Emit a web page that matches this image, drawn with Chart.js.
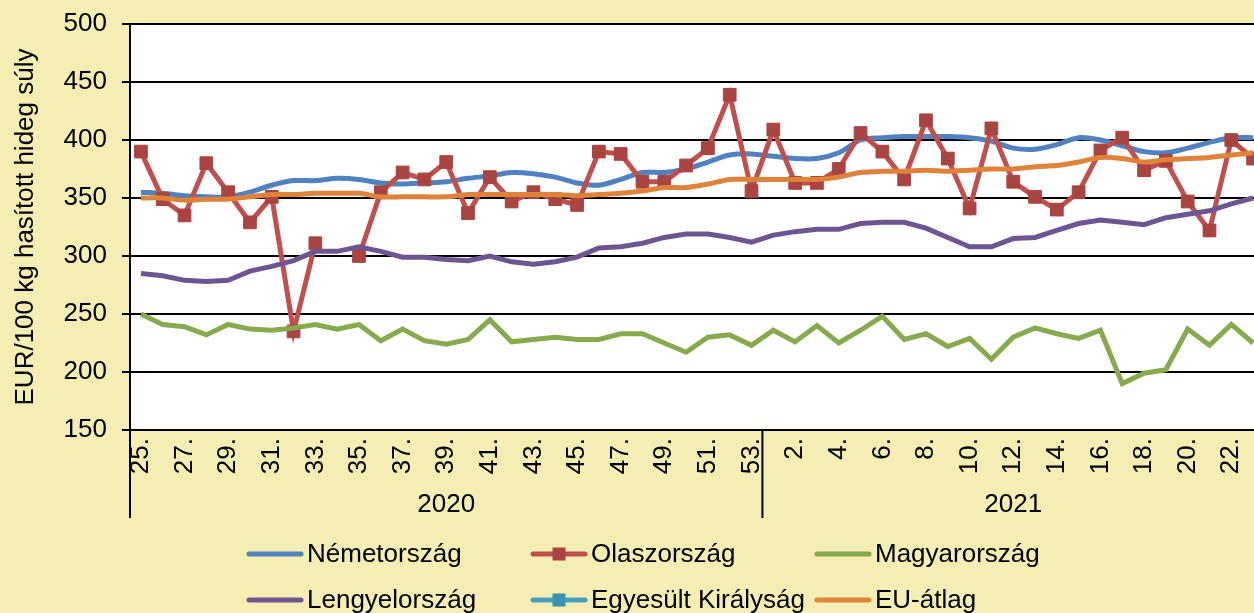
<!DOCTYPE html>
<html lang="hu">
<head>
<meta charset="utf-8">
<title>Sertéshús árak</title>
<script src="https://cdn.jsdelivr.net/npm/chart.js@4.4.0/dist/chart.umd.min.js"></script>
<style>
  html, body { margin: 0; padding: 0; overflow: hidden; background: #F4EEB4; }
  #wrap { width: 1278px; height: 613px; }
</style>
</head>
<body>
<div id="wrap"><canvas id="arChart" width="1278" height="613"></canvas></div>
<script>
// Hetek (2020: 25-53, 2021: 1-23)
const weeks = ['25.', '26.', '27.', '28.', '29.', '30.', '31.', '32.', '33.', '34.',
    '35.', '36.', '37.', '38.', '39.', '40.', '41.', '42.', '43.', '44.', '45.', '46.',
    '47.', '48.', '49.', '50.', '51.', '52.', '53.',
    '1.', '2.', '3.', '4.', '5.', '6.', '7.', '8.', '9.', '10.', '11.', '12.', '13.',
    '14.', '15.', '16.', '17.', '18.', '19.', '20.', '21.', '22.', '23.'];
const years = ['2020', '2021'];
const yearLengths = [29, 23];

const yTicks = [150, 200, 250, 300, 350, 400, 450, 500];

// Árak EUR/100 kg
const nemetorszag = [355, 354, 352, 351, 351, 355, 361, 365, 365, 367, 366, 363, 362, 363, 364,
    367, 369, 372, 371, 368, 363, 361, 366, 372, 372, 375, 381, 387, 388,
    386, 384, 384, 389, 400, 402, 403, 403, 403, 402, 399, 393, 392, 396, 402, 400, 395,
    390, 389, 393, 398, 402, 402];
const olaszorszag = [390, 349, 335, 380, 355, 329, 351, 235, 311, null, 300, 355, 372, 366, 381,
    337, 368, 347, 355, 349, 344, 390, 388, 364, 364, 378, 393, 439, 356,
    409, 363, 363, 375, 406, 390, 366, 417, 384, 341, 410, 364, 351, 340, 355, 391, 402,
    374, 382, 347, 322, 400, 384];
const magyarorszag = [250, 241, 239, 232, 241, 237, 236, 238, 241, 237, 241, 227, 237, 227, 224,
    228, 245, 226, 228, 230, 228, 228, 233, 233, 225, 217, 230, 232, 223,
    236, 226, 240, 225, 236, 248, 228, 233, 222, 229, 211, 230, 238, 233, 229, 236, 190,
    199, 202, 237, 223, 241, 225];
const lengyelorszag = [285, 283, 279, 278, 279, 287, 291, 296, 304, 304, 308, 304, 299, 299, 297,
    296, 300, 295, 293, 295, 299, 307, 308, 311, 316, 319, 319, 316, 312,
    318, 321, 323, 323, 328, 329, 329, 324, 316, 308, 308, 315, 316, 322, 328, 331, 329,
    327, 333, 336, 339, 345, 350];
const egyesultKiralysag = weeks.map(() => null); // nincs adat a képen
const euAtlag = [350, 350, 348, 349, 349, 351, 353, 353, 354, 354, 354, 351, 351, 351, 351,
    353, 353, 353, 353, 353, 352, 353, 354, 356, 359, 359, 362, 366, 366,
    366, 366, 366, 368, 372, 373, 373, 374, 373, 374, 375, 375, 377, 378, 381, 385, 384,
    381, 383, 384, 385, 387, 389];

const FONT = "'Liberation Sans', Arial, sans-serif";
Chart.defaults.font.family = FONT;
Chart.defaults.font.size = 26;
Chart.defaults.color = '#000';

// Háttér, évcsoportok és jelmagyarázat rajzolása
const extras = {
    id: 'extras',
    beforeDraw(chart) {
        const { ctx, chartArea: a } = chart;
        ctx.save();
        ctx.fillStyle = '#F4EEB4';
        ctx.fillRect(0, 0, chart.width, chart.height);
        ctx.fillStyle = '#FFFFFF';
        ctx.fillRect(a.left, a.top, a.right - a.left, a.bottom - a.top);
        ctx.restore();
    },
    afterDraw(chart) {
        const { ctx, chartArea: a } = chart;
        const x = chart.scales.x;
        const w = x.getPixelForValue(1) - x.getPixelForValue(0);
        ctx.save();
        ctx.strokeStyle = '#000';
        ctx.lineWidth = 2;
        ctx.fillStyle = '#000';
        ctx.font = '26px ' + FONT;
        ctx.textAlign = 'center';
        let start = 0;
        years.forEach((yr, i) => {
            const end = start + yearLengths[i] - 1;
            const left = x.getPixelForValue(start) - w / 2;
            const right = x.getPixelForValue(end) + w / 2;
            ctx.beginPath();
            ctx.moveTo(left, a.bottom);
            ctx.lineTo(left, a.bottom + 88);
            ctx.stroke();
            ctx.fillText(yr, (left + right) / 2, a.bottom + 82);
            start = end + 1;
        });

        // jelmagyarázat 3 oszlopban
        ctx.textAlign = 'left';
        ctx.textBaseline = 'middle';
        ctx.lineCap = 'round';
        chart.data.datasets.forEach((ds, i) => {
            const lx = 247 + (i % 3) * 284;
            const ly = 554 + Math.floor(i / 3) * 46;
            ctx.strokeStyle = ds.borderColor;
            ctx.lineWidth = 5;
            ctx.beginPath();
            ctx.moveTo(lx + 2, ly);
            ctx.lineTo(lx + 54, ly);
            ctx.stroke();
            if (ds.pointRadius > 0) {
                ctx.fillStyle = ds.pointBackgroundColor;
                ctx.fillRect(lx + 28 - 6.5, ly - 6.5, 13, 13);
            }
            ctx.fillStyle = '#000';
            ctx.fillText(ds.label, lx + 60, ly + 1);
        });
        ctx.restore();
    }
};

const ctx = document.getElementById('arChart').getContext('2d');
const arChart = new Chart(ctx, {
    type: 'line',
    data: {
        labels: weeks,
        datasets: [
            { label: 'Németország', data: nemetorszag, borderColor: '#4F82BE', borderWidth: 5,
              pointRadius: 0, tension: 0.3, order: 5 },
            { label: 'Olaszország', data: olaszorszag, borderColor: '#C0504D', borderWidth: 5,
              pointStyle: 'rect', pointRadius: 9, pointBackgroundColor: '#A94441',
              pointBorderColor: '#A94441', pointBorderWidth: 1, spanGaps: false, order: 4 },
            { label: 'Magyarország', data: magyarorszag, borderColor: '#86AA4C', borderWidth: 5,
              pointRadius: 0, order: 3 },
            { label: 'Lengyelország', data: lengyelorszag, borderColor: '#6E5592', borderWidth: 5,
              pointRadius: 0, order: 2 },
            { label: 'Egyesült Királyság', data: egyesultKiralysag, borderColor: '#4AA0BC', borderWidth: 5,
              pointStyle: 'rect', pointRadius: 9, pointBackgroundColor: '#3D93B0',
              pointBorderColor: '#3D93B0', order: 1 },
            { label: 'EU-átlag', data: euAtlag, borderColor: '#E0833A', borderWidth: 5,
              pointRadius: 0, tension: 0.3, order: 0 }
        ]
    },
    options: {
        responsive: false,
        animation: false,
        layout: { padding: { top: 24, left: 0, right: 0, bottom: 0 } },
        plugins: {
            legend: { display: false },
            tooltip: { enabled: false }
        },
        scales: {
            x: {
                offset: true,
                grid: { display: false, drawTicks: false },
                border: { display: true, color: '#000', width: 2 },
                ticks: {
                    autoSkip: false,
                    minRotation: 90,
                    maxRotation: 90,
                    padding: 8,
                    font: { size: 26 },
                    callback: function (val, index) {
                        return index % 2 === 0 ? this.getLabelForValue(val) : '';
                    }
                },
                afterFit: scale => {
                    scale.height = 183;
                    scale.paddingLeft = 0;
                    scale.paddingRight = 0;
                }
            },
            y: {
                min: 150,
                max: 500,
                afterBuildTicks: scale => { scale.ticks = yTicks.map(v => ({ value: v })); },
                grid: { color: '#000', lineWidth: 2, tickLength: 8 },
                border: { display: true, color: '#000', width: 2 },
                ticks: { padding: 15, font: { size: 26 } },
                title: {
                    display: true,
                    text: 'EUR/100 kg hasított hideg súly',
                    font: { size: 26 },
                    padding: { top: 10, bottom: 4 }
                },
                afterFit: scale => {
                    scale.width = 130;
                    scale.paddingTop = 0;
                    scale.paddingBottom = 0;
                }
            }
        }
    },
    plugins: [extras]
});
</script>
</body>
</html>
